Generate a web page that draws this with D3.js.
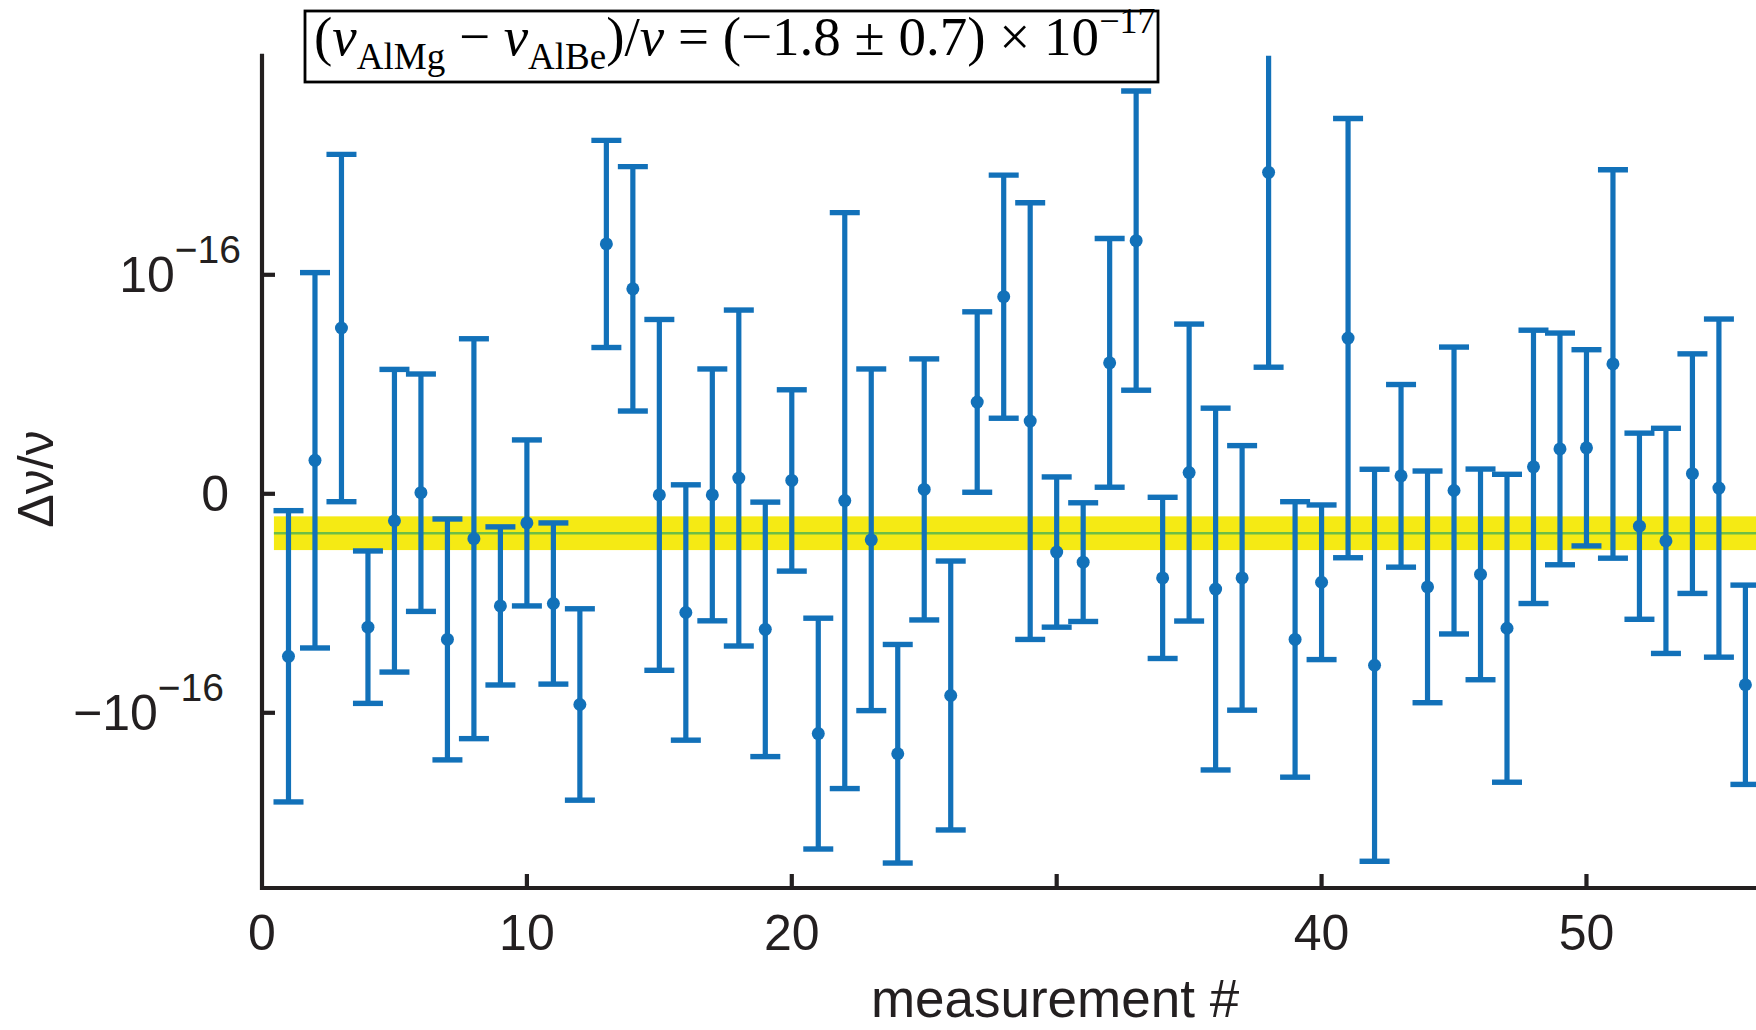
<!DOCTYPE html>
<html>
<head>
<meta charset="utf-8">
<script src="https://cdn.jsdelivr.net/npm/d3@7"></script>
<style>
  html, body { margin: 0; padding: 0; background: #fff; overflow: hidden; }
  svg { display: block; }
</style>
</head>
<body>
<svg id="chart" width="1756" height="1030"></svg>
<script>
// ── data (Δν/ν in units of 1e-17) ─────────────
const MEAS = [1, 2, 3, 4, 5, 6, 7, 8, 9, 10, 11, 12, 13, 14, 15, 16, 17, 18, 19, 20,
  21, 22, 23, 24, 25, 26, 27, 28, 29, 30, 31, 32, 33, 34, 35, 36, 37, 38, 39, 40,
  41, 42, 43, 44, 45, 46, 47, 48, 49, 50, 51, 52, 53, 54, 55, 56];
const VALUES = [-7.42, 1.53, 7.57, -6.09, -1.23, 0.05, -6.65, -2.05, -5.12, -1.33,
  -5.01, -9.62, 11.41, 9.36, -0.05, -5.42, -0.05, 0.72, -6.19, 0.61,
  -10.95, -0.31, -2.10, -11.87, 0.20, -9.21, 4.19, 9.00, 3.32, -2.66,
  -3.12, 5.98, 11.56, -3.84, 0.97, -4.35, -3.84, 14.68, -6.65, -4.04,
  7.11, -7.83, 0.82, -4.25, 0.15, -3.68, -6.14, 1.23, 2.05, 2.10,
  5.93, -1.48, -2.15, 0.92, 0.26, -8.72];
const ERRORS = [6.65, 8.57, 7.93, 3.48, 6.91, 5.42, 5.50, 9.13, 3.61, 3.79,
  3.68, 4.37, 4.73, 5.58, 8.01, 5.83, 5.75, 7.67, 5.81, 4.14,
  5.27, 13.15, 7.80, 4.99, 5.96, 6.14, 4.12, 5.55, 9.97, 3.43,
  2.71, 5.68, 6.83, 3.68, 6.78, 8.26, 6.04, 8.90, 6.29, 3.53,
  10.03, 8.95, 4.17, 5.29, 6.55, 4.81, 7.03, 6.24, 5.29, 4.48,
  8.87, 4.25, 5.14, 5.47, 7.72, 4.55];

// weighted mean band
const MEAN = -1.8;
const MEAN_ERR = 0.77;
const BAND_START = 0.45;

// ticks
const X_TICKS = [10, 20, 30, 40, 50];
const X_TICK_LABELS = ["0", "10", "20", "", "40", "50"];
const X_LABEL_AT = [0, 10, 20, 30, 40, 50];
const Y_TICKS = [-10, 0, 10];
const Y_TICK_LABELS = [
  { base: "\u221210", exp: "\u221216" },
  { base: "0", exp: "" },
  { base: "10", exp: "\u221216" }
];

// ── layout ────────────────────────────────────
const BLUE   = "#1271b9";
const YELLOW = "#f5ea14";
const GREEN  = "#6dbe45";
const INK    = "#231f20";
const SANS   = "'Liberation Sans', Arial, Helvetica, sans-serif";
const SERIF  = "'Liberation Serif', 'Times New Roman', serif";

const svg = d3.select("#chart");

const x = d3.scaleLinear().domain([0, 56.4]).range([262, 1756]);
const y = d3.scaleLinear().domain([-18, 20]).range([888, 55.8]);

svg.append("defs").append("clipPath").attr("id", "plot-clip")
  .append("rect")
  .attr("x", x(0)).attr("y", y(20))
  .attr("width", 1756 - x(0)).attr("height", y(-18) - y(20));

const plot = svg.append("g").attr("clip-path", "url(#plot-clip)");

// ── mean band ─────────────────────────────────
plot.append("rect")
  .attr("x", x(BAND_START))
  .attr("y", y(MEAN + MEAN_ERR))
  .attr("width", x(x.domain()[1]) - x(BAND_START))
  .attr("height", y(MEAN - MEAN_ERR) - y(MEAN + MEAN_ERR))
  .attr("fill", YELLOW);

plot.append("line")
  .attr("x1", x(BAND_START)).attr("x2", x(x.domain()[1]))
  .attr("y1", y(MEAN)).attr("y2", y(MEAN))
  .attr("stroke", GREEN).attr("stroke-width", 2.4);

// ── error bars ────────────────────────────────
const pts = MEAS.map((m, i) => ({ m, v: VALUES[i], e: ERRORS[i] }));
const capW = 15;

const bars = plot.append("g").selectAll("g").data(pts).join("g");

bars.append("line")
  .attr("x1", d => x(d.m)).attr("x2", d => x(d.m))
  .attr("y1", d => y(d.v + d.e)).attr("y2", d => y(d.v - d.e))
  .attr("stroke", BLUE).attr("stroke-width", 5.2);

bars.append("line")
  .attr("x1", d => x(d.m) - capW).attr("x2", d => x(d.m) + capW)
  .attr("y1", d => y(d.v + d.e)).attr("y2", d => y(d.v + d.e))
  .attr("stroke", BLUE).attr("stroke-width", 5.4);

bars.append("line")
  .attr("x1", d => x(d.m) - capW).attr("x2", d => x(d.m) + capW)
  .attr("y1", d => y(d.v - d.e)).attr("y2", d => y(d.v - d.e))
  .attr("stroke", BLUE).attr("stroke-width", 5.4);

bars.append("circle")
  .attr("cx", d => x(d.m)).attr("cy", d => y(d.v))
  .attr("r", 6.5)
  .attr("fill", BLUE);

// ── axes ──────────────────────────────────────
const axes = svg.append("g").attr("stroke", INK).attr("stroke-width", 4.2);

axes.append("path")
  .attr("d", `M${x(0)},${y(20)} V${y(-18)} H1756`)
  .attr("fill", "none")
  .attr("stroke-linecap", "square");

axes.selectAll(".xt").data(X_TICKS).join("line")
  .attr("x1", d => x(d)).attr("x2", d => x(d))
  .attr("y1", y(-18)).attr("y2", y(-18) - 14);

axes.selectAll(".yt").data(Y_TICKS).join("line")
  .attr("x1", x(0)).attr("x2", x(0) + 13)
  .attr("y1", d => y(d)).attr("y2", d => y(d));

// x tick labels
svg.append("g").selectAll("text").data(X_LABEL_AT).join("text")
  .attr("x", d => x(d))
  .attr("y", 950)
  .attr("text-anchor", "middle")
  .attr("font-family", SANS)
  .attr("font-size", 50)
  .attr("fill", INK)
  .text((d, i) => X_TICK_LABELS[i]);

// y tick labels (right edge differs a bit per label, as in the original)
const Y_LABEL_END = [224, 229, 241];
const yl = svg.append("g").selectAll("text").data(Y_TICKS).join("text")
  .attr("x", (d, i) => Y_LABEL_END[i])
  .attr("y", d => y(d) + 17)
  .attr("text-anchor", "end")
  .attr("font-family", SANS)
  .attr("font-size", 50)
  .attr("fill", INK)
  .style("white-space", "pre");

yl.each(function (d, i) {
  const t = d3.select(this);
  const lab = Y_TICK_LABELS[i];
  t.append("tspan").text(lab.base);
  if (lab.exp) {
    t.append("tspan").attr("font-size", 39).attr("dy", -29).text(lab.exp);
  }
});

// axis titles
svg.append("text")
  .attr("x", 1055).attr("y", 1017)
  .attr("text-anchor", "middle")
  .attr("font-family", SANS)
  .attr("font-size", 53)
  .attr("fill", INK)
  .text("measurement #");

svg.append("text")
  .attr("transform", "translate(53,479) rotate(-90)")
  .attr("text-anchor", "middle")
  .attr("font-family", SANS)
  .attr("font-size", 50)
  .attr("fill", INK)
  .text("\u0394\u03bd/\u03bd");

// ── result box ────────────────────────────────
svg.append("rect")
  .attr("x", 305).attr("y", 11)
  .attr("width", 1158 - 305).attr("height", 82 - 11)
  .attr("fill", "#fff")
  .attr("stroke", "#000").attr("stroke-width", 2.8);

const res = svg.append("text")
  .attr("x", 314).attr("y", 55)
  .attr("font-family", SERIF)
  .attr("font-size", 55)
  .attr("fill", "#000")
  .style("white-space", "pre");

res.append("tspan").text("(");
res.append("tspan").attr("font-style", "italic").text("\u03bd");
res.append("tspan").attr("font-size", 37).attr("dy", 14).text("AlMg");
res.append("tspan").attr("dy", -14).text(" \u2212 ");
res.append("tspan").attr("font-style", "italic").text("\u03bd");
res.append("tspan").attr("font-size", 37).attr("dy", 14).text("AlBe");
res.append("tspan").attr("dy", -14).text(")/");
res.append("tspan").attr("font-style", "italic").text("\u03bd");
res.append("tspan").text(" = (\u22121.8 \u00b1 0.7) \u00d7 10");
res.append("tspan").attr("font-size", 36).attr("dy", -22).text("\u221217");
</script>
</body>
</html>
